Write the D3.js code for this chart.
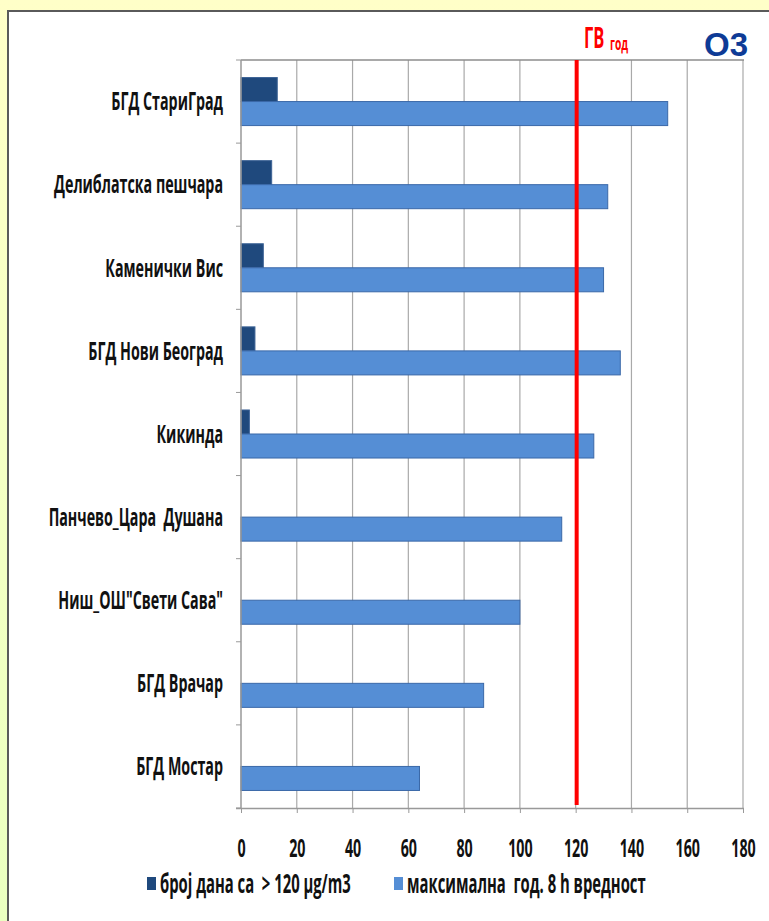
<!DOCTYPE html>
<html>
<head>
<meta charset="utf-8">
<script src="https://cdn.jsdelivr.net/npm/d3@7"></script>
<style>
  body { margin: 0; padding: 0; }
  svg { display: block; }
  .lbl { font-family: "Open Sans", "Noto Sans", sans-serif; font-weight: bold; white-space: pre; }
</style>
</head>
<body>
<div id="chart"></div>
<script>
const W = 769, H = 921;

// data
const stations = [
  "БГД СтариГрад",
  "Делиблатска пешчара",
  "Каменички Вис",
  "БГД Нови Београд",
  "Кикинда",
  "Панчево_Цара  Душана",
  "Ниш_ОШ\"Свети Сава\"",
  "БГД Врачар",
  "БГД Мостар"
];
const daysOver120 = [13, 11, 8, 5, 3, 0, 0, 0, 0];
const max8h = [153, 131.5, 130, 136, 126.5, 115, 100, 87, 64];
const seriesNames = ["број дана са  > 120 µg/m3", "максимална  год. 8 h вредност"];
const xTicks = [0, 20, 40, 60, 80, 100, 120, 140, 160, 180];
const limitValue = 120;

const colors = ["#1f497d", "#558ed5"];
const strokes = ["#3d6396", "#3a68a8"];

const margin = { top: 60, left: 241, right: 26, bottom: 113 };
const fs = 25;

const svg = d3.select("#chart").append("svg").attr("width", W).attr("height", H);

// background gradient + white panel
const defs = svg.append("defs");
const grad = defs.append("linearGradient").attr("id", "bg").attr("x1", 0).attr("y1", 0).attr("x2", 0).attr("y2", 1);
grad.append("stop").attr("offset", "0%").attr("stop-color", "#ffffc8");
grad.append("stop").attr("offset", "100%").attr("stop-color", "#eaffc0");
svg.append("rect").attr("width", W).attr("height", H).attr("fill", "url(#bg)");
svg.append("rect").attr("x", 7).attr("y", 10).attr("width", W).attr("height", H).attr("fill", "#fff");
svg.append("path").attr("d", `M8,${H} V11 H${W}`).attr("fill", "none").attr("stroke", "#5a5a5a").attr("stroke-width", 2);

// the original text is a squeezed Calibri, so measure once and squeeze everything alike
const probe = svg.append("text").attr("class", "lbl").attr("font-size", fs).text("Делиблатска пешчара");
const squeeze = 169 / probe.node().getComputedTextLength();
probe.remove();

// put text at (tx,ty) and squeeze it horizontally round that point
function placeText(sel, tx, ty) {
  sel.attr("x", 0).attr("y", 0).attr("transform", `translate(${tx},${ty}) scale(${squeeze},1)`);
}

const x = d3.scaleLinear().domain([0, 180]).range([margin.left, W - margin.right]);
const y = d3.scaleBand().domain(stations).range([margin.top, H - margin.bottom]);
const ySub = d3.scaleBand().domain([0, 1]).range([0, y.bandwidth()]).paddingOuter(0.73);

// gridlines
svg.append("g")
  .selectAll("line")
  .data(xTicks.slice(1))
  .join("line")
  .attr("x1", d => x(d)).attr("x2", d => x(d))
  .attr("y1", margin.top).attr("y2", H - margin.bottom)
  .attr("stroke", "#a9a9a9").attr("stroke-width", 1.2);

// top border line
svg.append("line")
  .attr("x1", margin.left).attr("x2", x(180) + 1)
  .attr("y1", margin.top).attr("y2", margin.top)
  .attr("stroke", "#8c8c8c").attr("stroke-width", 1.5);

// bars
const series = [daysOver120, max8h];
series.forEach((vals, si) => {
  svg.append("g")
    .selectAll("rect")
    .data(stations.map((s, i) => ({ s, v: vals[i] })).filter(d => d.v > 0))
    .join("rect")
    .attr("x", x(0))
    .attr("y", d => y(d.s) + ySub(si))
    .attr("width", d => x(d.v) - x(0))
    .attr("height", ySub.bandwidth())
    .attr("fill", colors[si])
    .attr("stroke", strokes[si])
    .attr("stroke-width", 1);
});

// x axis
const xAxis = svg.append("g")
  .attr("transform", `translate(0,${H - margin.bottom})`)
  .call(d3.axisBottom(x).tickValues(xTicks).tickSize(5).tickFormat(d3.format("d")));
xAxis.select(".domain").attr("d", `M${margin.left - 5},0.5H${x(180) + 1}`).attr("stroke", "#999").attr("stroke-width", 1.5);
xAxis.selectAll(".tick line").attr("stroke", "#999");
xAxis.selectAll("text")
  .attr("class", "lbl").attr("font-size", fs).attr("fill", "#111")
  .attr("dy", null)
  .each(function () { placeText(d3.select(this), 0, 49); });

// y axis
const yTickPos = stations.map(s => y(s)).concat([H - margin.bottom]);
const yAxis = svg.append("g");
yAxis.append("line")
  .attr("x1", margin.left).attr("x2", margin.left)
  .attr("y1", margin.top).attr("y2", H - margin.bottom)
  .attr("stroke", "#999").attr("stroke-width", 1.5);
yAxis.selectAll("line.tk")
  .data(yTickPos)
  .join("line").attr("class", "tk")
  .attr("x1", margin.left - 5).attr("x2", margin.left)
  .attr("y1", d => d).attr("y2", d => d)
  .attr("stroke", "#999");
yAxis.selectAll("text")
  .data(stations)
  .join("text")
  .attr("class", "lbl")
  .attr("text-anchor", "end")
  .attr("font-size", fs)
  .attr("fill", "#111")
  .attr("dy", "0.35em")
  .text(d => d)
  .each(function (d) { placeText(d3.select(this), 223, y(d) + y.bandwidth() / 2); });

// limit line
svg.append("line")
  .attr("x1", x(limitValue) + 1).attr("x2", x(limitValue) + 1)
  .attr("y1", margin.top).attr("y2", H - margin.bottom - 3)
  .attr("stroke", "#ff0000").attr("stroke-width", 4);

// annotations
const gv = svg.append("text").attr("class", "lbl").attr("fill", "#ff0000");
gv.append("tspan").attr("font-size", 29).text("ГВ");
gv.append("tspan").attr("font-size", 18).attr("dx", 10).attr("dy", 2).text("год");
placeText(gv, 584, 48);

svg.append("text")
  .attr("x", 748).attr("y", 56)
  .attr("text-anchor", "end")
  .attr("font-family", "Liberation Sans, Arial, sans-serif")
  .attr("font-weight", "bold")
  .attr("font-size", 33)
  .attr("fill", "#0e3b96")
  .text("O3");

// legend
const legendX = [147, 394];
const legend = svg.append("g");
seriesNames.forEach((name, i) => {
  legend.append("rect")
    .attr("x", legendX[i]).attr("y", 877)
    .attr("width", 9).attr("height", 13)
    .attr("fill", colors[i]);
  const t = legend.append("text")
    .attr("class", "lbl")
    .attr("dy", "0.35em")
    .attr("font-size", 26)
    .attr("fill", "#111")
    .text(name);
  placeText(t, legendX[i] + 13, 884);
});
</script>
</body>
</html>
